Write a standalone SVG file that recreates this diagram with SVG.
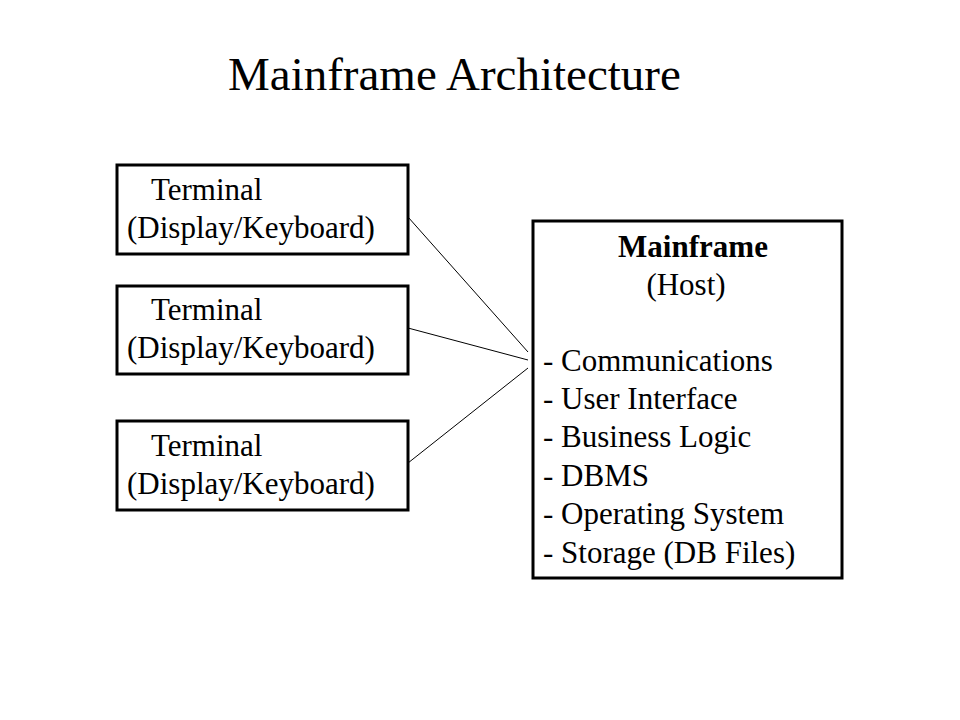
<svg xmlns="http://www.w3.org/2000/svg" width="960" height="720" viewBox="0 0 960 720">
<style>
text{font-family:"Liberation Serif","Times New Roman",serif;fill:#000}
.t{font-size:31px}
.box{fill:#fff;stroke:#000;stroke-width:3}
.c{stroke:#000;stroke-width:1;fill:none}
</style>
<rect width="960" height="720" fill="#fff"/>
<text x="228" y="90" style="font-size:47px">Mainframe Architecture</text>
<g id="connectors">
<line class="c" x1="408" y1="217" x2="528" y2="352"/>
<line class="c" x1="408" y1="328" x2="528" y2="360"/>
<line class="c" x1="408" y1="463" x2="528" y2="368"/>
</g>
<g id="terminal1">
<rect class="box" x="117" y="165" width="291" height="89"/>
<text class="t" x="151" y="200">Terminal</text>
<text class="t" x="127" y="238">(Display/Keyboard)</text>
</g>
<g id="terminal2">
<rect class="box" x="117" y="286" width="291" height="88"/>
<text class="t" x="151" y="320">Terminal</text>
<text class="t" x="127" y="358">(Display/Keyboard)</text>
</g>
<g id="terminal3">
<rect class="box" x="117" y="421" width="291" height="89"/>
<text class="t" x="151" y="456">Terminal</text>
<text class="t" x="127" y="494">(Display/Keyboard)</text>
</g>
<g id="mainframe">
<rect class="box" x="533" y="221" width="309" height="357"/>
<text class="t" x="693" y="257" text-anchor="middle" font-weight="bold">Mainframe</text>
<text class="t" x="686" y="295" text-anchor="middle">(Host)</text>
<text class="t" x="543" y="371">- Communications</text>
<text class="t" x="543" y="409">- User Interface</text>
<text class="t" x="543" y="447">- Business Logic</text>
<text class="t" x="543" y="486">- DBMS</text>
<text class="t" x="543" y="524">- Operating System</text>
<text class="t" x="543" y="563">- Storage (DB Files)</text>
</g>
</svg>
